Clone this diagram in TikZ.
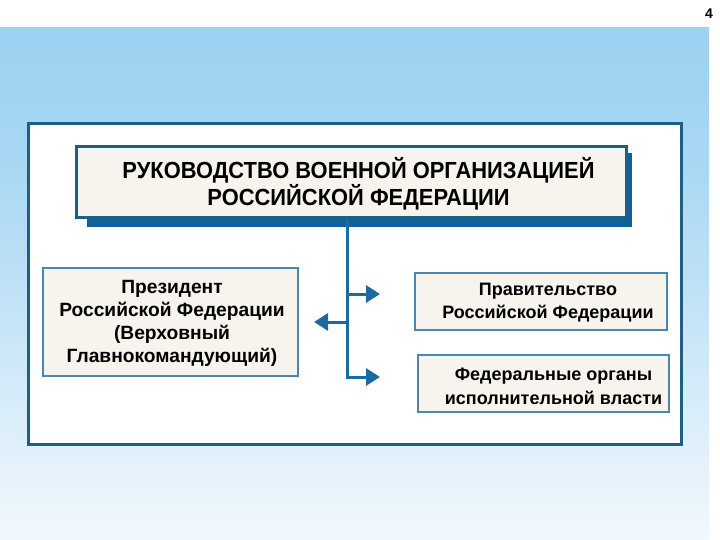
\documentclass[tikz,border=0pt]{standalone}
\usepackage{fontspec}
\setmainfont{Liberation Sans}
\newfontfamily\titlefont{Liberation Sans}[FakeStretch=0.94]
\usetikzlibrary{arrows.meta}
\definecolor{bgtop}{HTML}{9DD1F1}
\definecolor{bgb}{HTML}{A7D7F3}
\definecolor{bgc}{HTML}{BFE1F6}
\definecolor{bgd}{HTML}{D9EDFA}
\definecolor{bgbot}{HTML}{F2F8FD}
\definecolor{framec}{HTML}{1E5F86}
\definecolor{arrowc}{HTML}{1B6AA0}
\definecolor{shadowc}{HTML}{11609A}
\definecolor{boxline}{HTML}{4A86AD}
\definecolor{cream}{HTML}{F7F4EE}
\pgfdeclareverticalshading{bgshade}{100bp}{color(0bp)=(bgbot); color(25bp)=(bgbot); color(37.5bp)=(bgd); color(50bp)=(bgc); color(62.5bp)=(bgb); color(75bp)=(bgtop); color(100bp)=(bgtop)}
\tikzset{
  boxstyle/.style={draw=boxline, line width=1.8pt, fill=cream},
  boxtext/.style={font=\bfseries\fontsize{19.2}{23}\selectfont, align=center, inner sep=0pt, text=black},
  conn/.style={draw=arrowc, line width=3pt},
  arr/.style={conn, -{Triangle[length=14pt,width=17pt]}},
}
\begin{document}
\begin{tikzpicture}[x=1pt,y=-1pt]
\useasboundingbox (0,0) rectangle (720,540);
\fill[white] (0,0) rectangle (720,540);
\shade[shading=bgshade] (0,28) rectangle (709,540);
\node[font=\bfseries\fontsize{14}{16}\selectfont, inner sep=0pt] (pagenum) at (709,14) {4};
% outer frame
\draw[draw=framec, line width=3pt, fill=white] (28,124) rectangle (681,444);
% title
\fill[shadowc] (87,153) rectangle (632,227);
\draw[draw=framec, line width=3pt, fill=cream] (76,147) rectangle (626,218);
\node[font=\titlefont\bfseries\fontsize{23.3}{24.5}\selectfont, align=center, inner sep=0pt] (title) at (358.5,183.5) {РУКОВОДСТВО ВОЕННОЙ ОРГАНИЗАЦИЕЙ\\РОССИЙСКОЙ ФЕДЕРАЦИИ};
\coordinate (ttop) at (347,219);
% boxes
\draw[boxstyle] (43,268) rectangle (298,376);
\node[boxtext] (pres) at (172,323.5) {Президент\\Российской Федерации\\(Верховный\\Главнокомандующий)};
\draw[boxstyle] (415,273) rectangle (667,330);
\node[boxtext, font=\bfseries\fontsize{18}{23}\selectfont] (gov) at (548,303) {Правительство\\Российской Федерации};
\draw[boxstyle] (418,355) rectangle (669,412);
\node[boxtext, font=\bfseries\fontsize{18}{24}\selectfont] (fed) at (553.5,386) {Федеральные органы\\исполнительной власти};
% connectors
\coordinate (j1) at (347,294);
\coordinate (j2) at (347,322);
\coordinate (j3) at (347,377);
\coordinate (e1) at (380,294);
\coordinate (e2) at (314,322);
\coordinate (e3) at (380,377);
\draw[conn] (ttop) -- (j3);
\draw[arr] (j1) -- (e1);
\draw[arr] (j2) -- (e2);
\draw[arr] ([xshift=-1.5pt]j3) -- (e3);
\end{tikzpicture}
\end{document}
